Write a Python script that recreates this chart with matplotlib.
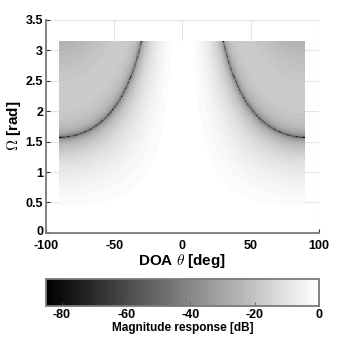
import numpy as np
import matplotlib
matplotlib.use('Agg')
import matplotlib.pyplot as plt
import matplotlib.transforms as mtransforms

plt.rcParams['font.family'] = ['Liberation Sans', 'DejaVu Sans']
plt.rcParams['font.weight'] = 'bold'
plt.rcParams['mathtext.fontset'] = 'cm'
plt.rcParams['axes.unicode_minus'] = False

# grid of the response: DOA in degrees and normalised frequency in rad
theta_deg = np.linspace(-90, 90, 361)
omega = np.linspace(0, np.pi, 315)

# colour range of the plot and colorbar ticks
c_lim = [-85, 0]
cbar_ticks = [-80, -60, -40, -20, 0]
x_ticks = [-100, -50, 0, 50, 100]
y_ticks = [0, 0.5, 1, 1.5, 2, 2.5, 3, 3.5]
y_ticklabels = ['0', '0.5', '1', '1.5', '2', '2.5', '3', '3.5']


def magnitudeResponse(th, om):
    # response of the array depends on x = Omega*sin(theta):
    # null at x = pi/2, decaying sidelobe beyond it
    x = om * np.sin(np.deg2rad(th))
    H = np.cos(x) * np.exp(-(x / 1.8) ** 2)
    return 20 * np.log10(np.maximum(np.abs(H), 1e-6))


TH, OM = np.meshgrid(theta_deg, omega)
mag = np.clip(magnitudeResponse(TH, OM), c_lim[0], c_lim[1])

fig = plt.figure(figsize=(3.53, 3.64), dpi=100)
ax = fig.add_axes([0.130, 0.360, 0.773, 0.586])

ax.grid(True, color='#e4e4e4', linewidth=0.8)
ax.set_axisbelow(True)
mesh = ax.pcolormesh(theta_deg, omega, mag, cmap=plt.get_cmap('gray', 64),
                     vmin=c_lim[0], vmax=c_lim[1], shading='nearest', zorder=2)

ax.set_xlim(-100, 100)
ax.set_ylim(0, 3.5)
ax.set_xticks(x_ticks)
ax.set_yticks(y_ticks)
ax.set_yticklabels(y_ticklabels)
for s in ['top', 'right']:
    ax.spines[s].set_visible(False)
for s in ['left', 'bottom']:
    ax.spines[s].set_color('#7a7a7a')
    ax.spines[s].set_linewidth(1.3)
    ax.spines[s].set_zorder(3)
ax.tick_params(direction='in', length=3, width=0.8, color='#333333',
               labelsize=9)
ax.tick_params(axis='y', pad=2)
ax.tick_params(axis='x', pad=5)
# lift the bottom y label a little so it sits above "-100"
lbl0 = ax.get_yticklabels()[0]
lbl0.set_transform(lbl0.get_transform() +
                   mtransforms.ScaledTranslation(0, 2 / 72, fig.dpi_scale_trans))
ax.set_xlabel(r'DOA $\theta$ [deg]', fontsize=11, fontweight='bold', labelpad=0)
ax.set_ylabel(r'$\Omega$ [rad]', fontsize=11, fontweight='bold', labelpad=2)

cax = fig.add_axes([0.130, 0.159, 0.773, 0.074])
cb = fig.colorbar(mesh, cax=cax, orientation='horizontal', ticks=cbar_ticks)
cb.outline.set_edgecolor('#7a7a7a')
cb.outline.set_linewidth(1.3)
cax.tick_params(direction='in', length=3, width=0.6, color='#555555',
                labelsize=9, pad=2)
cb.set_label('Magnitude response [dB]', fontsize=8.5, fontweight='bold', labelpad=1)

fig.savefig('out.png', dpi=100)
